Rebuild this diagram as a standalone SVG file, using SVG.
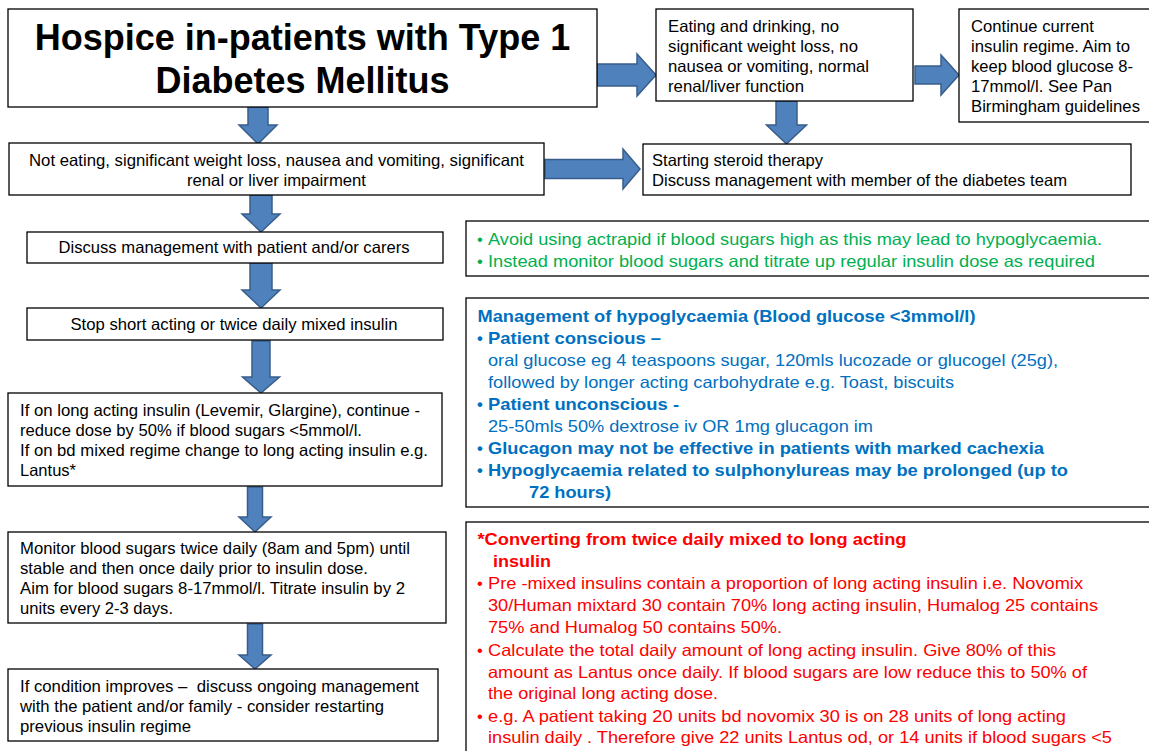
<svg xmlns="http://www.w3.org/2000/svg" width="1149" height="751" viewBox="0 0 1149 751">
<style>
.box{fill:#fff;stroke:#000;stroke-width:1.3}
.arrow{fill:#4F81BD;stroke:#385D8A;stroke-width:1.5;stroke-linejoin:miter}
text{font-family:"Liberation Sans",Arial,sans-serif;font-size:16.5px;fill:#000}
.title{font-size:36px;font-weight:bold}
.c{text-anchor:middle}
.g{fill:#00B050}
.b{fill:#0070C0}
.r{fill:#FF0000}
.bd{font-weight:bold}
</style>
<rect x="0" y="0" width="1149" height="751" fill="#fff"/>

<g id="connectors">
<path class="arrow" d="M597,64 H637 V54 L656,75 L637,96 V86 H597 Z"/>
<path class="arrow" d="M915,66 H941 V55 L959,75 L941,95 V84 H915 Z"/>
<path class="arrow" d="M776,101 H797 V125 H806.5 L786.5,144 L766.5,125 H776 Z"/>
<path class="arrow" d="M248,107 H268 V125 H277 L258,144 L239,125 H248 Z"/>
<path class="arrow" d="M545,159.5 H623 V149 L640,169 L623,189 V178.5 H545 Z"/>
<path class="arrow" d="M250,195 H272 V214 H280 L261,232 L242,214 H250 Z"/>
<path class="arrow" d="M250,263 H272 V290 H280 L261,308 L242,290 H250 Z"/>
<path class="arrow" d="M252,341 H270 V377 H279.5 L261,393 L242.5,377 H252 Z"/>
<path class="arrow" d="M247.5,487 H262.5 V517 H271 L255,532 L239,517 H247.5 Z"/>
<path class="arrow" d="M247.5,624 H262.5 V655 H271 L255,669 L239,655 H247.5 Z"/>
</g>

<g id="title">
<rect class="box" x="8" y="9" width="589" height="98"/>
<text class="title c" x="302.5" y="50">Hospice in-patients with Type 1</text>
<text class="title c" x="302.5" y="93">Diabetes Mellitus</text>
</g>

<g id="eating">
<rect class="box" x="656" y="9" width="257" height="92"/>
<text x="668" y="31.5" textLength="171" lengthAdjust="spacingAndGlyphs">Eating and drinking, no</text>
<text x="668" y="51.5" textLength="190" lengthAdjust="spacingAndGlyphs">significant weight loss, no</text>
<text x="668" y="71.5" textLength="201" lengthAdjust="spacingAndGlyphs">nausea or vomiting, normal</text>
<text x="668" y="91.5" textLength="136" lengthAdjust="spacingAndGlyphs">renal/liver function</text>
</g>

<g id="continue">
<rect class="box" x="959" y="9" width="195" height="113"/>
<text x="971" y="31.5" textLength="123" lengthAdjust="spacingAndGlyphs">Continue current</text>
<text x="971" y="51.5" textLength="159" lengthAdjust="spacingAndGlyphs">insulin regime. Aim to</text>
<text x="971" y="71.5" textLength="162" lengthAdjust="spacingAndGlyphs">keep blood glucose 8-</text>
<text x="971" y="91.5" textLength="141" lengthAdjust="spacingAndGlyphs">17mmol/l. See Pan</text>
<text x="971" y="111.5" textLength="169" lengthAdjust="spacingAndGlyphs">Birmingham guidelines</text>
</g>

<g id="steroid">
<rect class="box" x="643" y="144" width="488" height="51"/>
<text x="652" y="166" textLength="171" lengthAdjust="spacingAndGlyphs">Starting steroid therapy</text>
<text x="652" y="186" textLength="415" lengthAdjust="spacingAndGlyphs">Discuss management with member of the diabetes team</text>
</g>

<g id="not-eating">
<rect class="box" x="9" y="143" width="535" height="52"/>
<text class="c" x="276.5" y="166" textLength="495" lengthAdjust="spacingAndGlyphs">Not eating, significant weight loss, nausea and vomiting, significant</text>
<text class="c" x="276.5" y="185.5" textLength="179" lengthAdjust="spacingAndGlyphs">renal or liver impairment</text>
</g>

<g id="discuss">
<rect class="box" x="27" y="232" width="416" height="31"/>
<text class="c" x="234" y="252.5" textLength="351" lengthAdjust="spacingAndGlyphs">Discuss management with patient and/or carers</text>
</g>

<g id="stop">
<rect class="box" x="27" y="308" width="416" height="32"/>
<text class="c" x="234" y="329.5" textLength="327" lengthAdjust="spacingAndGlyphs">Stop short acting or twice daily mixed insulin</text>
</g>

<g id="long-acting">
<rect class="box" x="8" y="393" width="434" height="93"/>
<text x="20" y="416" textLength="400" lengthAdjust="spacingAndGlyphs">If on long acting insulin (Levemir, Glargine), continue -</text>
<text x="20" y="436" textLength="342" lengthAdjust="spacingAndGlyphs">reduce dose by 50% if blood sugars &lt;5mmol/l.</text>
<text x="20" y="456" textLength="408" lengthAdjust="spacingAndGlyphs">If on bd mixed regime change to long acting insulin e.g.</text>
<text x="20" y="476" textLength="56" lengthAdjust="spacingAndGlyphs">Lantus*</text>
</g>

<g id="monitor">
<rect class="box" x="8" y="532" width="438" height="91"/>
<text x="20" y="553.5" textLength="390" lengthAdjust="spacingAndGlyphs">Monitor blood sugars twice daily (8am and 5pm) until</text>
<text x="20" y="573.5" textLength="348" lengthAdjust="spacingAndGlyphs">stable and then once daily prior to insulin dose.</text>
<text x="20" y="593.5" textLength="385" lengthAdjust="spacingAndGlyphs">Aim for blood sugars 8-17mmol/l. Titrate insulin by 2</text>
<text x="20" y="613.5" textLength="153" lengthAdjust="spacingAndGlyphs">units every 2-3 days.</text>
</g>

<g id="improves">
<rect class="box" x="8" y="669" width="430" height="72"/>
<text x="20" y="691.5" textLength="399" lengthAdjust="spacingAndGlyphs">If condition improves –&#160; discuss ongoing management</text>
<text x="20" y="711.5" textLength="364" lengthAdjust="spacingAndGlyphs">with the patient and/or family - consider restarting</text>
<text x="20" y="731.5" textLength="171" lengthAdjust="spacingAndGlyphs">previous insulin regime</text>
</g>

<g id="actrapid-note">
<rect class="box" x="466" y="221" width="690" height="55"/>
<text class="g" x="477" y="245">•</text>
<text class="g" x="488" y="245" textLength="614" lengthAdjust="spacingAndGlyphs">Avoid using actrapid if blood sugars high as this may lead to hypoglycaemia.</text>
<text class="g" x="477" y="266.5">•</text>
<text class="g" x="488" y="266.5" textLength="607" lengthAdjust="spacingAndGlyphs">Instead monitor blood sugars and titrate up regular insulin dose as required</text>
</g>

<g id="hypoglycaemia-note">
<rect class="box" x="466" y="298" width="690" height="209"/>
<text class="b bd" x="477.5" y="322" textLength="498" lengthAdjust="spacingAndGlyphs">Management of hypoglycaemia (Blood glucose &lt;3mmol/l)</text>
<text class="b bd" x="477" y="344">•</text>
<text class="b bd" x="488" y="344" textLength="173" lengthAdjust="spacingAndGlyphs">Patient conscious –</text>
<text class="b" x="488" y="366" textLength="570" lengthAdjust="spacingAndGlyphs">oral glucose eg 4 teaspoons sugar, 120mls lucozade or glucogel (25g),</text>
<text class="b" x="488" y="387.5" textLength="466" lengthAdjust="spacingAndGlyphs">followed by longer acting carbohydrate e.g. Toast, biscuits</text>
<text class="b bd" x="477" y="410">•</text>
<text class="b bd" x="488" y="410" textLength="191" lengthAdjust="spacingAndGlyphs">Patient unconscious -</text>
<text class="b" x="488" y="431.5" textLength="385" lengthAdjust="spacingAndGlyphs">25-50mls 50% dextrose iv OR 1mg glucagon im</text>
<text class="b bd" x="477" y="454">•</text>
<text class="b bd" x="488" y="454" textLength="556" lengthAdjust="spacingAndGlyphs">Glucagon may not be effective in patients with marked cachexia</text>
<text class="b bd" x="477" y="476">•</text>
<text class="b bd" x="488" y="476" textLength="580" lengthAdjust="spacingAndGlyphs">Hypoglycaemia related to sulphonylureas may be prolonged (up to</text>
<text class="b bd" x="529" y="497.5" textLength="82" lengthAdjust="spacingAndGlyphs">72 hours)</text>
</g>

<g id="converting-note">
<rect class="box" x="466" y="522" width="690" height="240"/>
<text class="r bd" x="477.5" y="545" textLength="429" lengthAdjust="spacingAndGlyphs">*Converting from twice daily mixed to long acting</text>
<text class="r bd" x="493" y="567" textLength="58" lengthAdjust="spacingAndGlyphs">insulin</text>
<text class="r" x="477" y="588.5">•</text>
<text class="r" x="488" y="588.5" textLength="595" lengthAdjust="spacingAndGlyphs">Pre -mixed insulins contain a proportion of long acting insulin i.e. Novomix</text>
<text class="r" x="488" y="610.5" textLength="610" lengthAdjust="spacingAndGlyphs">30/Human mixtard 30 contain 70% long acting insulin, Humalog 25 contains</text>
<text class="r" x="488" y="632.5" textLength="294" lengthAdjust="spacingAndGlyphs">75% and Humalog 50 contains 50%.</text>
<text class="r" x="477" y="655.5">•</text>
<text class="r" x="488" y="655.5" textLength="568" lengthAdjust="spacingAndGlyphs">Calculate the total daily amount of long acting insulin. Give 80% of this</text>
<text class="r" x="488" y="677.5" textLength="599" lengthAdjust="spacingAndGlyphs">amount as Lantus once daily. If blood sugars are low reduce this to 50% of</text>
<text class="r" x="488" y="698.5" textLength="230" lengthAdjust="spacingAndGlyphs">the original long acting dose.</text>
<text class="r" x="477" y="721.5">•</text>
<text class="r" x="488" y="721.5" textLength="578" lengthAdjust="spacingAndGlyphs">e.g. A patient taking 20 units bd novomix 30 is on 28 units of long acting</text>
<text class="r" x="488" y="743" textLength="624" lengthAdjust="spacingAndGlyphs">insulin daily . Therefore give 22 units Lantus od, or 14 units if blood sugars &lt;5</text>
</g>
</svg>
